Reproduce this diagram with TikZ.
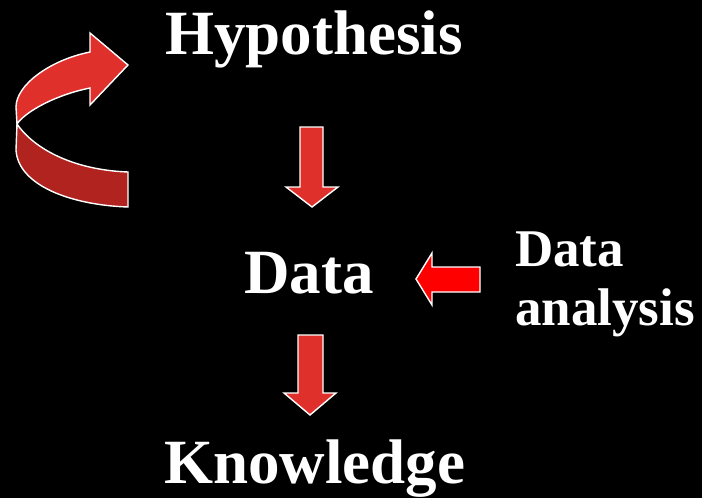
\documentclass[tikz,border=0pt]{standalone}
\usepackage{fontspec}
\setmainfont{Liberation Serif}
\definecolor{arrred}{RGB}{224,48,44}
\definecolor{ribdark}{RGB}{176,35,31}
\definecolor{pured}{RGB}{255,0,0}
\begin{document}
\begin{tikzpicture}[x=1pt,y=-1pt,
  blockarrow/.style={fill=arrred,draw=white,line width=1.4pt,line join=miter},
  bigtext/.style={text=white,font=\bfseries\fontsize{63}{63}\selectfont,inner sep=0pt,anchor=base west},
  smalltext/.style={text=white,font=\bfseries\fontsize{53}{53}\selectfont,inner sep=0pt,anchor=base west}]
\fill[black] (0,0) rectangle (702,498);
\useasboundingbox (0,0) rectangle (702,498);
% texts
\node[bigtext] (hyp) at (165,54) {Hypothesis};
\node[bigtext] (data) at (244,293) {Data};
\node[bigtext] (know) at (164,483) {Knowledge};
\node[smalltext] (da1) at (515,266) {Data};
\node[smalltext] (da2) at (515,325) {analysis};
% curved ribbon arrow
\draw[blockarrow,fill=ribdark] (17,124) .. controls (35,150) and (75,170) .. (128,172)
  -- (128,207) .. controls (70,205) and (18,185) .. (16,150) -- cycle;
\draw[blockarrow] (90,88) -- (90,105) -- (128,65) -- (90,33) -- (90,52)
  .. controls (50,60) and (16,85) .. (16,107) -- (17,124)
  .. controls (25,112) and (55,95) .. (90,88) -- cycle;
% down arrow 1
\draw[blockarrow] (300,127) -- (323,127) -- (323,187) -- (338,187) -- (312,207)
  -- (286,187) -- (300,187) -- cycle;
% down arrow 2
\draw[blockarrow] (298,335) -- (323,335) -- (323,393) -- (336,393) -- (310,415)
  -- (284,393) -- (298,393) -- cycle;
% left arrow
\draw[blockarrow,fill=pured] (480,267) -- (480,292) -- (432,292) -- (432,305) -- (416,279)
  -- (432,253) -- (432,267) -- cycle;
\end{tikzpicture}
\end{document}
